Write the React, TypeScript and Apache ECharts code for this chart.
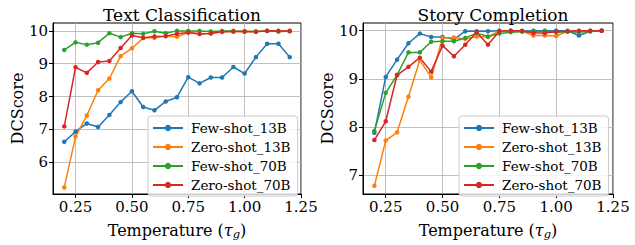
import React, { useEffect, useRef } from "react";
import * as echarts from "echarts";

const temperatures = [0.2, 0.25, 0.3, 0.35, 0.4, 0.45, 0.5, 0.55, 0.6, 0.65, 0.7, 0.75, 0.8, 0.85, 0.9, 0.95, 1.0, 1.05, 1.1, 1.15, 1.2];
const seriesNames = ["Few-shot_13B", "Zero-shot_13B", "Few-shot_70B", "Zero-shot_70B"];
const colors = ["#1f77b4", "#ff7f0e", "#2ca02c", "#d62728"];

// Text Classification
const tcFew13 = [6.62, 6.93, 7.18, 7.07, 7.44, 7.83, 8.16, 7.68, 7.58, 7.85, 7.98, 8.59, 8.4, 8.58, 8.58, 8.9, 8.7, 9.2, 9.61, 9.61, 9.2];
const tcZero13 = [5.23, 6.78, 7.42, 8.19, 8.55, 9.23, 9.47, 9.78, 9.79, 9.84, 9.82, 9.95, 9.9, 9.93, 9.97, 9.98, 9.98, 9.98, 10.0, 10.0, 10.0];
const tcFew70 = [9.42, 9.65, 9.58, 9.64, 9.93, 9.81, 9.93, 9.91, 9.99, 9.93, 10.0, 10.0, 10.0, 9.98, 10.0, 10.0, 9.98, 9.98, 10.0, 9.98, 9.99];
const tcZero70 = [7.09, 8.89, 8.72, 9.05, 9.08, 9.48, 9.86, 9.79, 9.83, 9.84, 9.91, 9.95, 9.91, 9.92, 9.97, 9.98, 9.98, 9.97, 10.0, 10.0, 10.0];

// Story Completion
const scFew13 = [7.88, 9.04, 9.4, 9.74, 9.94, 9.87, 9.87, 9.82, 9.99, 9.99, 9.99, 10.0, 10.0, 9.99, 10.0, 10.0, 10.0, 10.0, 9.9, 9.99, 10.0];
const scZero13 = [6.78, 7.72, 7.89, 8.63, 9.39, 9.03, 9.85, 9.86, 9.83, 9.88, 9.87, 10.0, 9.99, 9.99, 9.9, 9.9, 9.89, 9.99, 9.99, 10.0, 10.0];
const scFew70 = [7.92, 8.71, 9.08, 9.55, 9.55, 9.77, 9.78, 9.78, 9.85, 9.95, 9.88, 9.94, 9.97, 9.98, 9.98, 9.99, 9.97, 9.98, 9.97, 9.99, 10.0];
const scZero70 = [7.73, 8.12, 9.08, 9.25, 9.44, 9.15, 9.69, 9.47, 9.71, 9.97, 9.71, 9.99, 10.0, 10.0, 9.95, 9.95, 9.98, 9.99, 10.0, 10.0, 10.0];

const xTicks = [0.25, 0.5, 0.75, 1.0, 1.25];
const yTicksLeft = [6, 7, 8, 9, 10];
const yTicksRight = [7, 8, 9, 10];
const titles = ["Text Classification", "Story Completion"];

const FONT = "DejaVu Serif";

export default function App() {
  const ref = useRef<HTMLDivElement>(null);
  useEffect(() => {
    if (!ref.current) return;
    const chart = echarts.init(ref.current, null, { renderer: "svg" });
    const grids = [
      { left: 53, top: 23, width: 248, height: 185 },
      { left: 363, top: 23, width: 250, height: 185 },
    ];
    const yRanges = [
      [5.03, 10.24],
      [6.61, 10.16],
    ];
    const yTicks = [yTicksLeft, yTicksRight];
    const data = [
      [tcFew13, tcZero13, tcFew70, tcZero70],
      [scFew13, scZero13, scFew70, scZero70],
    ];
    const xAxes = grids.map((_, i) => ({
      type: "value",
      gridIndex: i,
      min: 0.15,
      max: 1.25,
      name: "{a|Temperature (}{i|τ}{s|g}{a|)}",
      nameLocation: "middle",
      nameGap: 26,
      nameTextStyle: {
        rich: {
          a: { fontFamily: FONT, fontSize: 16, color: "#000" },
          i: { fontFamily: FONT, fontSize: 16, fontStyle: "italic", color: "#000" },
          s: { fontFamily: FONT, fontSize: 11.5, fontStyle: "italic", color: "#000", padding: [8, 0, 0, 0] },
        },
      },
      axisLine: { show: true, onZero: false, lineStyle: { color: "#000", width: 1 } },
      axisTick: { show: true, length: 4, customValues: xTicks, lineStyle: { color: "#000" } },
      axisLabel: {
        customValues: xTicks,
        formatter: (v: number) => v.toFixed(2),
        fontFamily: FONT,
        fontSize: 15,
        color: "#000",
        margin: 5,
      },
      splitLine: { show: true, lineStyle: { color: "#b0b0b0", width: 0.8 } },
    }));
    const yAxes = grids.map((_, i) => ({
      type: "value",
      gridIndex: i,
      min: yRanges[i][0],
      max: yRanges[i][1],
      name: "DCScore",
      nameLocation: "middle",
      nameRotate: 90,
      nameGap: i === 0 ? 28 : 20,
      nameTextStyle: { fontFamily: FONT, fontSize: 16, color: "#000" },
      axisLine: { show: true, onZero: false, lineStyle: { color: "#000", width: 1 } },
      axisTick: { show: true, length: 4, customValues: yTicks[i], lineStyle: { color: "#000" } },
      axisLabel: {
        customValues: yTicks[i],
        formatter: (v: number) => String(Math.round(v)),
        fontFamily: FONT,
        fontSize: 15,
        color: "#000",
        margin: 5,
      },
      splitLine: { show: true, lineStyle: { color: "#b0b0b0", width: 0.8 } },
    }));
    const series: any[] = [];
    data.forEach((group, gi) => {
      group.forEach((vals, si) => {
        series.push({
          type: "line",
          name: seriesNames[si],
          xAxisIndex: gi,
          yAxisIndex: gi,
          data: temperatures.map((t, k) => [t, vals[k]]),
          symbol: "circle",
          symbolSize: 4.5,
          showSymbol: true,
          color: colors[si],
          lineStyle: { width: 1.5, color: colors[si] },
          itemStyle: { color: colors[si] },
        });
      });
    });
    const legendBase = {
      orient: "vertical",
      data: seriesNames,
      itemWidth: 30,
      itemHeight: 8,
      itemGap: 5,
      backgroundColor: "rgba(255,255,255,0.8)",
      borderColor: "#cccccc",
      borderWidth: 1,
      borderRadius: 3,
      padding: [5, 7, 4, 4],
      textStyle: { fontFamily: FONT, fontSize: 13.5, color: "#000", padding: [0, 0, 0, 3] },
      selectedMode: false,
    };
    chart.setOption({
      animation: false,
      backgroundColor: "#fff",
      title: titles.map((t, i) => ({
        text: t,
        left: grids[i].left + grids[i].width / 2,
        top: 1,
        textAlign: "center",
        textStyle: { fontFamily: FONT, fontSize: 17, fontWeight: "normal", color: "#000" },
      })),
      grid: grids.map((g) => ({ ...g, show: true, borderColor: "#000", borderWidth: 1, backgroundColor: "transparent" })),
      xAxis: xAxes,
      yAxis: yAxes,
      legend: [
        { ...legendBase, left: 148, top: 116 },
        { ...legendBase, left: 459, top: 116 },
      ],
      series,
    } as any);
    return () => chart.dispose();
  }, []);
  return <div ref={ref} style={{ position: "fixed", left: 0, top: 0, width: 635, height: 245 }} />;
}
